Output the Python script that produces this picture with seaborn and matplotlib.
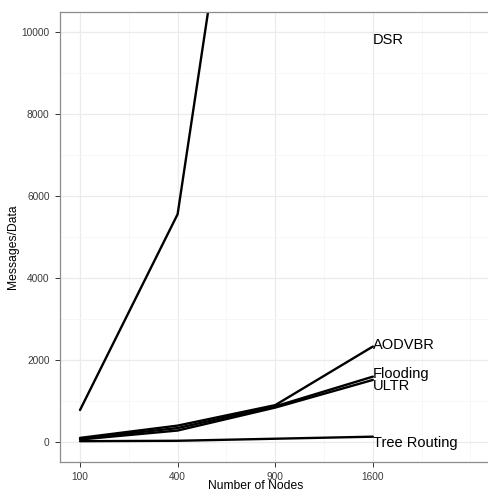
import numpy as np
import pandas as pd
import matplotlib
matplotlib.use("Agg")
import matplotlib.pyplot as plt
import seaborn as sns

nodes = [100, 400, 900, 1600]
dsr = [780, 5560, 21400, 45000]
aodvbr = [100, 400, 900, 2330]
flooding = [80, 340, 870, 1595]
ultr = [60, 280, 840, 1515]
tree = [20, 30, 80, 130]

series_names = ["DSR", "AODVBR", "Flooding", "ULTR", "Tree Routing"]
series_vals = [dsr, aodvbr, flooding, ultr, tree]
label_y = [9810, 2370, 1660, 1370, -20]

rows = []
for name, vals in zip(series_names, series_vals):
    for n, v in zip(nodes, vals):
        rows.append({"Nodes": n, "Value": v, "Protocol": name})
df = pd.DataFrame(rows)

sns.set_theme(style="white")
plt.rcParams['font.family'] = ['Liberation Sans', 'DejaVu Sans']

fig = plt.figure(figsize=(4.88, 4.91), dpi=100)
ax = fig.add_axes([60/488, 29/491, 428/488, 450/491])

ax.set_xscale('function', functions=(np.sqrt, np.square))

sns.lineplot(data=df, x="Nodes", y="Value", hue="Protocol",
             palette=["black"] * len(series_names), linewidth=1.7,
             legend=False, ax=ax, sort=False)

for name, vals, ly in zip(series_names, series_vals, label_y):
    ax.text(nodes[-1], ly, name, ha='left', va='center', fontsize=10.5, color='black')

ax.set_xlim(7.95**2, 51.8**2)
ax.set_ylim(-488, 10495)

ax.set_xticks(nodes)
ax.set_xticklabels([str(n) for n in nodes])
ax.set_xticks([225, 625, 1225, 2025, 2500], minor=True)
ax.set_yticks([0, 2000, 4000, 6000, 8000, 10000])
ax.set_yticks([1000, 3000, 5000, 7000, 9000], minor=True)

ax.grid(True, which='major', color='#ebebeb', linewidth=0.9)
ax.grid(True, which='minor', color='#f6f6f6', linewidth=0.6)
ax.set_axisbelow(True)

ax.tick_params(axis='both', which='major', labelsize=7.3, labelcolor='#3a3a3a',
               color='#333333', length=3.5, width=0.7, pad=4, bottom=True, left=True)
ax.tick_params(axis='both', which='minor', length=0)

for s in ['left', 'bottom', 'top']:
    ax.spines[s].set_color('#8c8c8c')
    ax.spines[s].set_linewidth(0.9)
ax.spines['right'].set_visible(False)

ax.set_xlabel("Number of Nodes", fontsize=8.7, color='black')
ax.set_ylabel("Messages/Data", fontsize=8.7, color='black')
ax.xaxis.set_label_coords((256 - 60) / 428, (462 - 480) / 450)
ax.yaxis.set_label_coords((18.5 - 60) / 428, (462 - 247) / 450)

fig.savefig("out.png", dpi=100)
